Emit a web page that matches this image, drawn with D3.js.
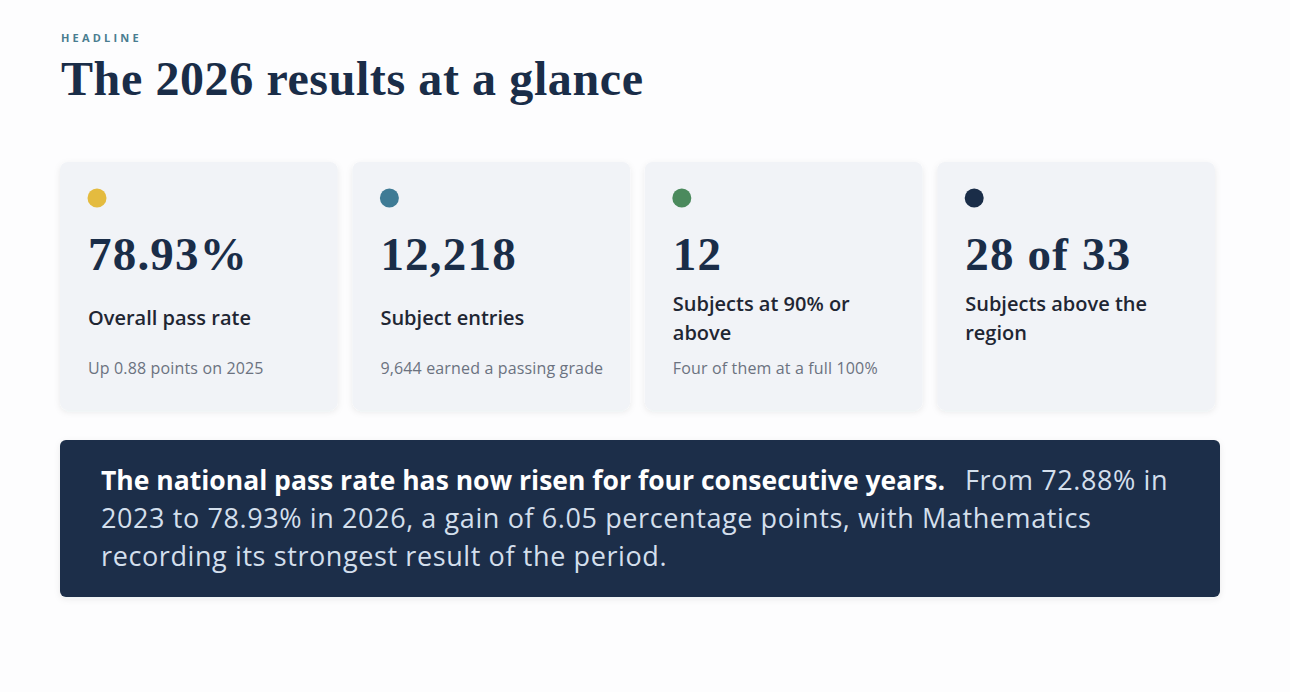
<!DOCTYPE html>
<html>
<head>
<meta charset="utf-8">
<script src="https://cdn.jsdelivr.net/npm/d3@7/dist/d3.min.js"></script>
<style>
  html, body { margin: 0; padding: 0; background: #fdfdfe; }
  svg { display: block; }
</style>
</head>
<body>
<div id="chart"></div>
<script>
// KPI card content
const kpiValues = ["78.93%", "12,218", "12", "28 of 33"];
const kpiLabels = [
  ["Overall pass rate"],
  ["Subject entries"],
  ["Subjects at 90% or", "above"],
  ["Subjects above the", "region"],
];
const kpiNotes = [
  "Up 0.88 points on 2025",
  "9,644 earned a passing grade",
  "Four of them at a full 100%",
  "",
];
const kpiColors = ["#e4bb3f", "#3f7b95", "#4b8a5d", "#1a2d48"];

// banner text, split in lines as shown
const bannerLead = "The national pass rate has now risen for four consecutive years.";
const bannerLines = [
  "From 72.88% in",
  "2023 to 78.93% in 2026, a gain of 6.05 percentage points, with Mathematics",
  "recording its strongest result of the period.",
];

const width = 1290, height = 692;
const serif = "'Liberation Serif', 'DejaVu Serif', serif";
const sans = "'Open Sans', 'Noto Sans', sans-serif";

const svg = d3.select("#chart").append("svg")
  .attr("width", width)
  .attr("height", height);

const defs = svg.append("defs");
const shadow = defs.append("filter").attr("id", "shadow")
  .attr("x", "-10%").attr("y", "-10%").attr("width", "120%").attr("height", "125%");
shadow.append("feDropShadow")
  .attr("dx", 0).attr("dy", 2).attr("stdDeviation", 3)
  .attr("flood-color", "#1a2d48").attr("flood-opacity", 0.08);

// header
svg.append("text")
  .attr("x", 61).attr("y", 42)
  .attr("font-family", sans).attr("font-weight", 700)
  .attr("font-size", 11).attr("letter-spacing", 3.2)
  .attr("fill", "#4a7d90")
  .text("HEADLINE");

svg.append("text")
  .attr("x", 61).attr("y", 95)
  .attr("font-family", serif).attr("font-weight", 700)
  .attr("font-size", 48).attr("letter-spacing", 0.6)
  .attr("fill", "#1a2d48")
  .text("The 2026 results at a glance");

// card layout
const x = d3.scaleBand()
  .domain(d3.range(kpiValues.length))
  .range([60, 1215])
  .paddingInner(0.05);

const cardTop = 162, cardH = 248;

const card = svg.selectAll("g.card")
  .data(kpiValues.map((v, i) => ({ value: v, label: kpiLabels[i], note: kpiNotes[i], color: kpiColors[i] })))
  .join("g")
  .attr("class", "card")
  .attr("transform", (d, i) => `translate(${x(i)},${cardTop})`);

card.append("rect")
  .attr("width", x.bandwidth())
  .attr("height", cardH)
  .attr("rx", 8)
  .attr("fill", "#f1f3f7")
  .attr("filter", "url(#shadow)");

card.append("circle")
  .attr("cx", 37).attr("cy", 36).attr("r", 9.5)
  .attr("fill", (d) => d.color);

card.append("text")
  .attr("x", 28).attr("y", 108)
  .attr("font-family", serif).attr("font-weight", 700)
  .attr("font-size", 47).attr("letter-spacing", 1.2)
  .attr("fill", "#1a2d48")
  .text((d) => d.value);

// label block centred inside the gap between number and note
const labelLine = 29;
card.append("text")
  .attr("font-family", sans).attr("font-weight", 600)
  .attr("font-size", 20)
  .attr("fill", "#1f2633")
  .each(function (d) {
    const self = d3.select(this);
    const y0 = 163 - (d.label.length - 1) * labelLine / 2;
    d.label.forEach((line, j) => {
      self.append("tspan")
        .attr("x", 28)
        .attr("y", y0 + j * labelLine)
        .text(line);
    });
  });

card.append("text")
  .attr("x", 28).attr("y", 212)
  .attr("font-family", sans)
  .attr("font-size", 16).attr("letter-spacing", 0.15)
  .attr("fill", "#6b7280")
  .text((d) => d.note);

// summary banner
const banner = svg.append("g").attr("transform", "translate(60,440)");
banner.append("rect")
  .attr("width", 1160).attr("height", 157)
  .attr("rx", 6)
  .attr("fill", "#1a2d48")
  .attr("filter", "url(#shadow)");

const bText = banner.append("text")
  .attr("font-family", sans);

const first = bText.append("tspan").attr("x", 41).attr("y", 50);
first.append("tspan")
  .attr("font-weight", 700).attr("font-size", 26.5)
  .attr("fill", "#ffffff")
  .text(bannerLead);
first.append("tspan")
  .attr("font-size", 27).attr("letter-spacing", 0.6)
  .attr("fill", "#d3dfec")
  .attr("dx", 20)
  .text(bannerLines[0]);

bannerLines.slice(1).forEach((line, j) => {
  bText.append("tspan")
    .attr("x", 41)
    .attr("y", 50 + (j + 1) * 38)
    .attr("font-size", 27).attr("letter-spacing", 0.6)
    .attr("fill", "#d3dfec")
    .text(line);
});
</script>
</body>
</html>
